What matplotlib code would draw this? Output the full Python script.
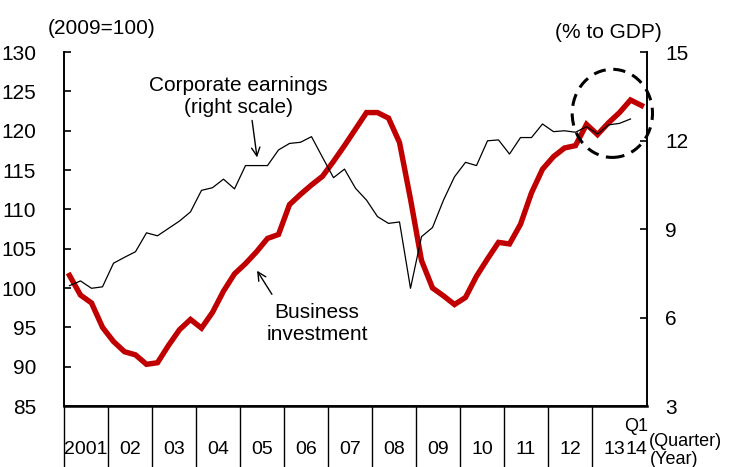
import matplotlib
matplotlib.use('Agg')
import matplotlib.pyplot as plt
from matplotlib.patches import Ellipse
from matplotlib import font_manager

names = {f.name for f in font_manager.fontManager.ttflist}
NARROW = 'Liberation Sans Narrow' if 'Liberation Sans Narrow' in names else 'Liberation Sans'
plt.rcParams['font.family'] = ['Liberation Sans', 'DejaVu Sans']

# ---- data: 2001Q1 .. 2014Q1 ----
quarters = [f"{y}Q{q}" for y in range(2001, 2015) for q in range(1, 5)][:53]

business_investment = [
    101.6, 99.1, 98.1, 95.0, 93.2, 91.9, 91.5, 90.3, 90.5, 92.7,
    94.7, 96.0, 94.9, 96.9, 99.6, 101.8, 103.1, 104.6, 106.3, 106.8,
    110.6, 111.9, 113.1, 114.2, 116.1, 118.1, 120.2, 122.3, 122.3, 121.6,
    118.5, 111.3, 103.5, 100.0, 99.0, 97.9, 98.8, 101.5, 103.7, 105.8,
    105.6, 108.1, 112.1, 115.1, 116.7, 117.8, 118.1, 120.8, 119.5, 121.0,
    122.3, 123.9, 123.2,
]

corporate_earnings = [
    7.08, 7.24, 6.99, 7.04, 7.84, 8.04, 8.23, 8.87, 8.77, 9.02,
    9.27, 9.58, 10.31, 10.40, 10.69, 10.36, 11.15, 11.15, 11.15, 11.68,
    11.90, 11.94, 12.13, 11.43, 10.74, 11.03, 10.38, 9.98, 9.42, 9.19,
    9.24, 6.99, 8.74, 9.05, 9.98, 10.77, 11.26, 11.15, 11.99, 12.02,
    11.54, 12.10, 12.10, 12.56, 12.30, 12.33, 12.28, 12.47, 12.22, 12.53,
    12.58, 12.73,
]

year_labels = ['2001', '02', '03', '04', '05', '06', '07', '08', '09',
               '10', '11', '12', '13', '14']
left_ticks = [85, 90, 95, 100, 105, 110, 115, 120, 125, 130]
right_ticks = [3, 6, 9, 12, 15]

# ---- figure ----
W, H = 729, 467
fig = plt.figure(figsize=(W / 100, H / 100), dpi=100)
ax = fig.add_axes([64 / W, 61 / H, 583 / W, 354 / H])
ax2 = ax.twinx()

x_inv = list(range(len(business_investment)))
x_earn = list(range(len(corporate_earnings)))

ax.plot(x_inv, business_investment, color='#C00000', lw=3.9,
        solid_joinstyle='miter', zorder=3)
ax2.plot(x_earn, corporate_earnings, color='black', lw=0.9, zorder=4)

ax.set_xlim(-0.5, len(quarters) - 0.5)
ax.set_ylim(85, 130)
ax2.set_ylim(3, 15)

# spines
for a in (ax, ax2):
    a.spines['top'].set_visible(False)
for s in ('left', 'right', 'bottom'):
    ax.spines[s].set_linewidth(1.2)
    ax2.spines[s].set_linewidth(1.2)
ax.spines['bottom'].set_linewidth(1.8)

ax.set_yticks(left_ticks)
ax.set_yticklabels([str(v) for v in left_ticks], family=NARROW, fontsize=15)
ax.tick_params(axis='y', direction='in', length=5, width=1.2, pad=20)
ax2.set_yticks(right_ticks)
ax2.set_yticklabels([str(v) for v in right_ticks], family=NARROW, fontsize=15)
ax2.tick_params(axis='y', direction='in', length=5, width=1.2, pad=13)

# x axis: year labels as major ticks, separators as minor ticks
n_years = 13
year_pos = [4 * k + 1.5 for k in range(n_years)] + [len(quarters) - 1.45]
ax.set_xticks(year_pos)
ax.set_xticklabels(year_labels, family=NARROW, fontsize=14)
ax.tick_params(axis='x', which='major', length=0, pad=25)
ax.set_xticks([4 * k - 0.5 for k in range(n_years)], minor=True)
ax.tick_params(axis='x', which='minor', direction='out', length=46, width=1.0)

ax.text(len(quarters) - 1.45, -0.058, 'Q1', transform=ax.get_xaxis_transform(),
        ha='center', va='center', fontsize=13, family=NARROW)
fig.text(649 / W, 1 - 441 / H, '(Quarter)', ha='left', va='center',
         fontsize=13, family=NARROW)
fig.text(650 / W, 1 - 459 / H, '(Year)', ha='left', va='center',
         fontsize=13, family=NARROW)

# axis unit labels
fig.text(102 / W, 1 - 28 / H, '(2009=100)', ha='center', va='center', fontsize=15)
fig.text(608 / W, 1 - 32 / H, '(% to GDP)', ha='center', va='center', fontsize=15)

# annotations
ax.text(15.35, 124.4, 'Corporate earnings\n(right scale)', ha='center',
        va='center', fontsize=15, linespacing=1.2)
ax.annotate('', xy=(17.05, 116.6), xytext=(16.6, 121.3),
            arrowprops=dict(arrowstyle='->,head_length=0.6,head_width=0.3',
                            lw=1.0, color='black', shrinkA=0, shrinkB=0))
ax.text(22.5, 95.5, 'Business\ninvestment', ha='center', va='center',
        fontsize=15, linespacing=1.2)
ax.annotate('', xy=(17.05, 102.2), xytext=(18.4, 99.2),
            arrowprops=dict(arrowstyle='->,head_length=0.6,head_width=0.3',
                            lw=1.0, color='black', shrinkA=0, shrinkB=0))

# dashed highlight ellipse
ell = Ellipse((49.35, 122.2), width=7.3, height=11.2, fill=False,
              edgecolor='black', lw=2.2, linestyle=(0, (4, 2.5)),
              clip_on=False, zorder=5)
ax.add_patch(ell)

fig.savefig('out.png', dpi=100)
